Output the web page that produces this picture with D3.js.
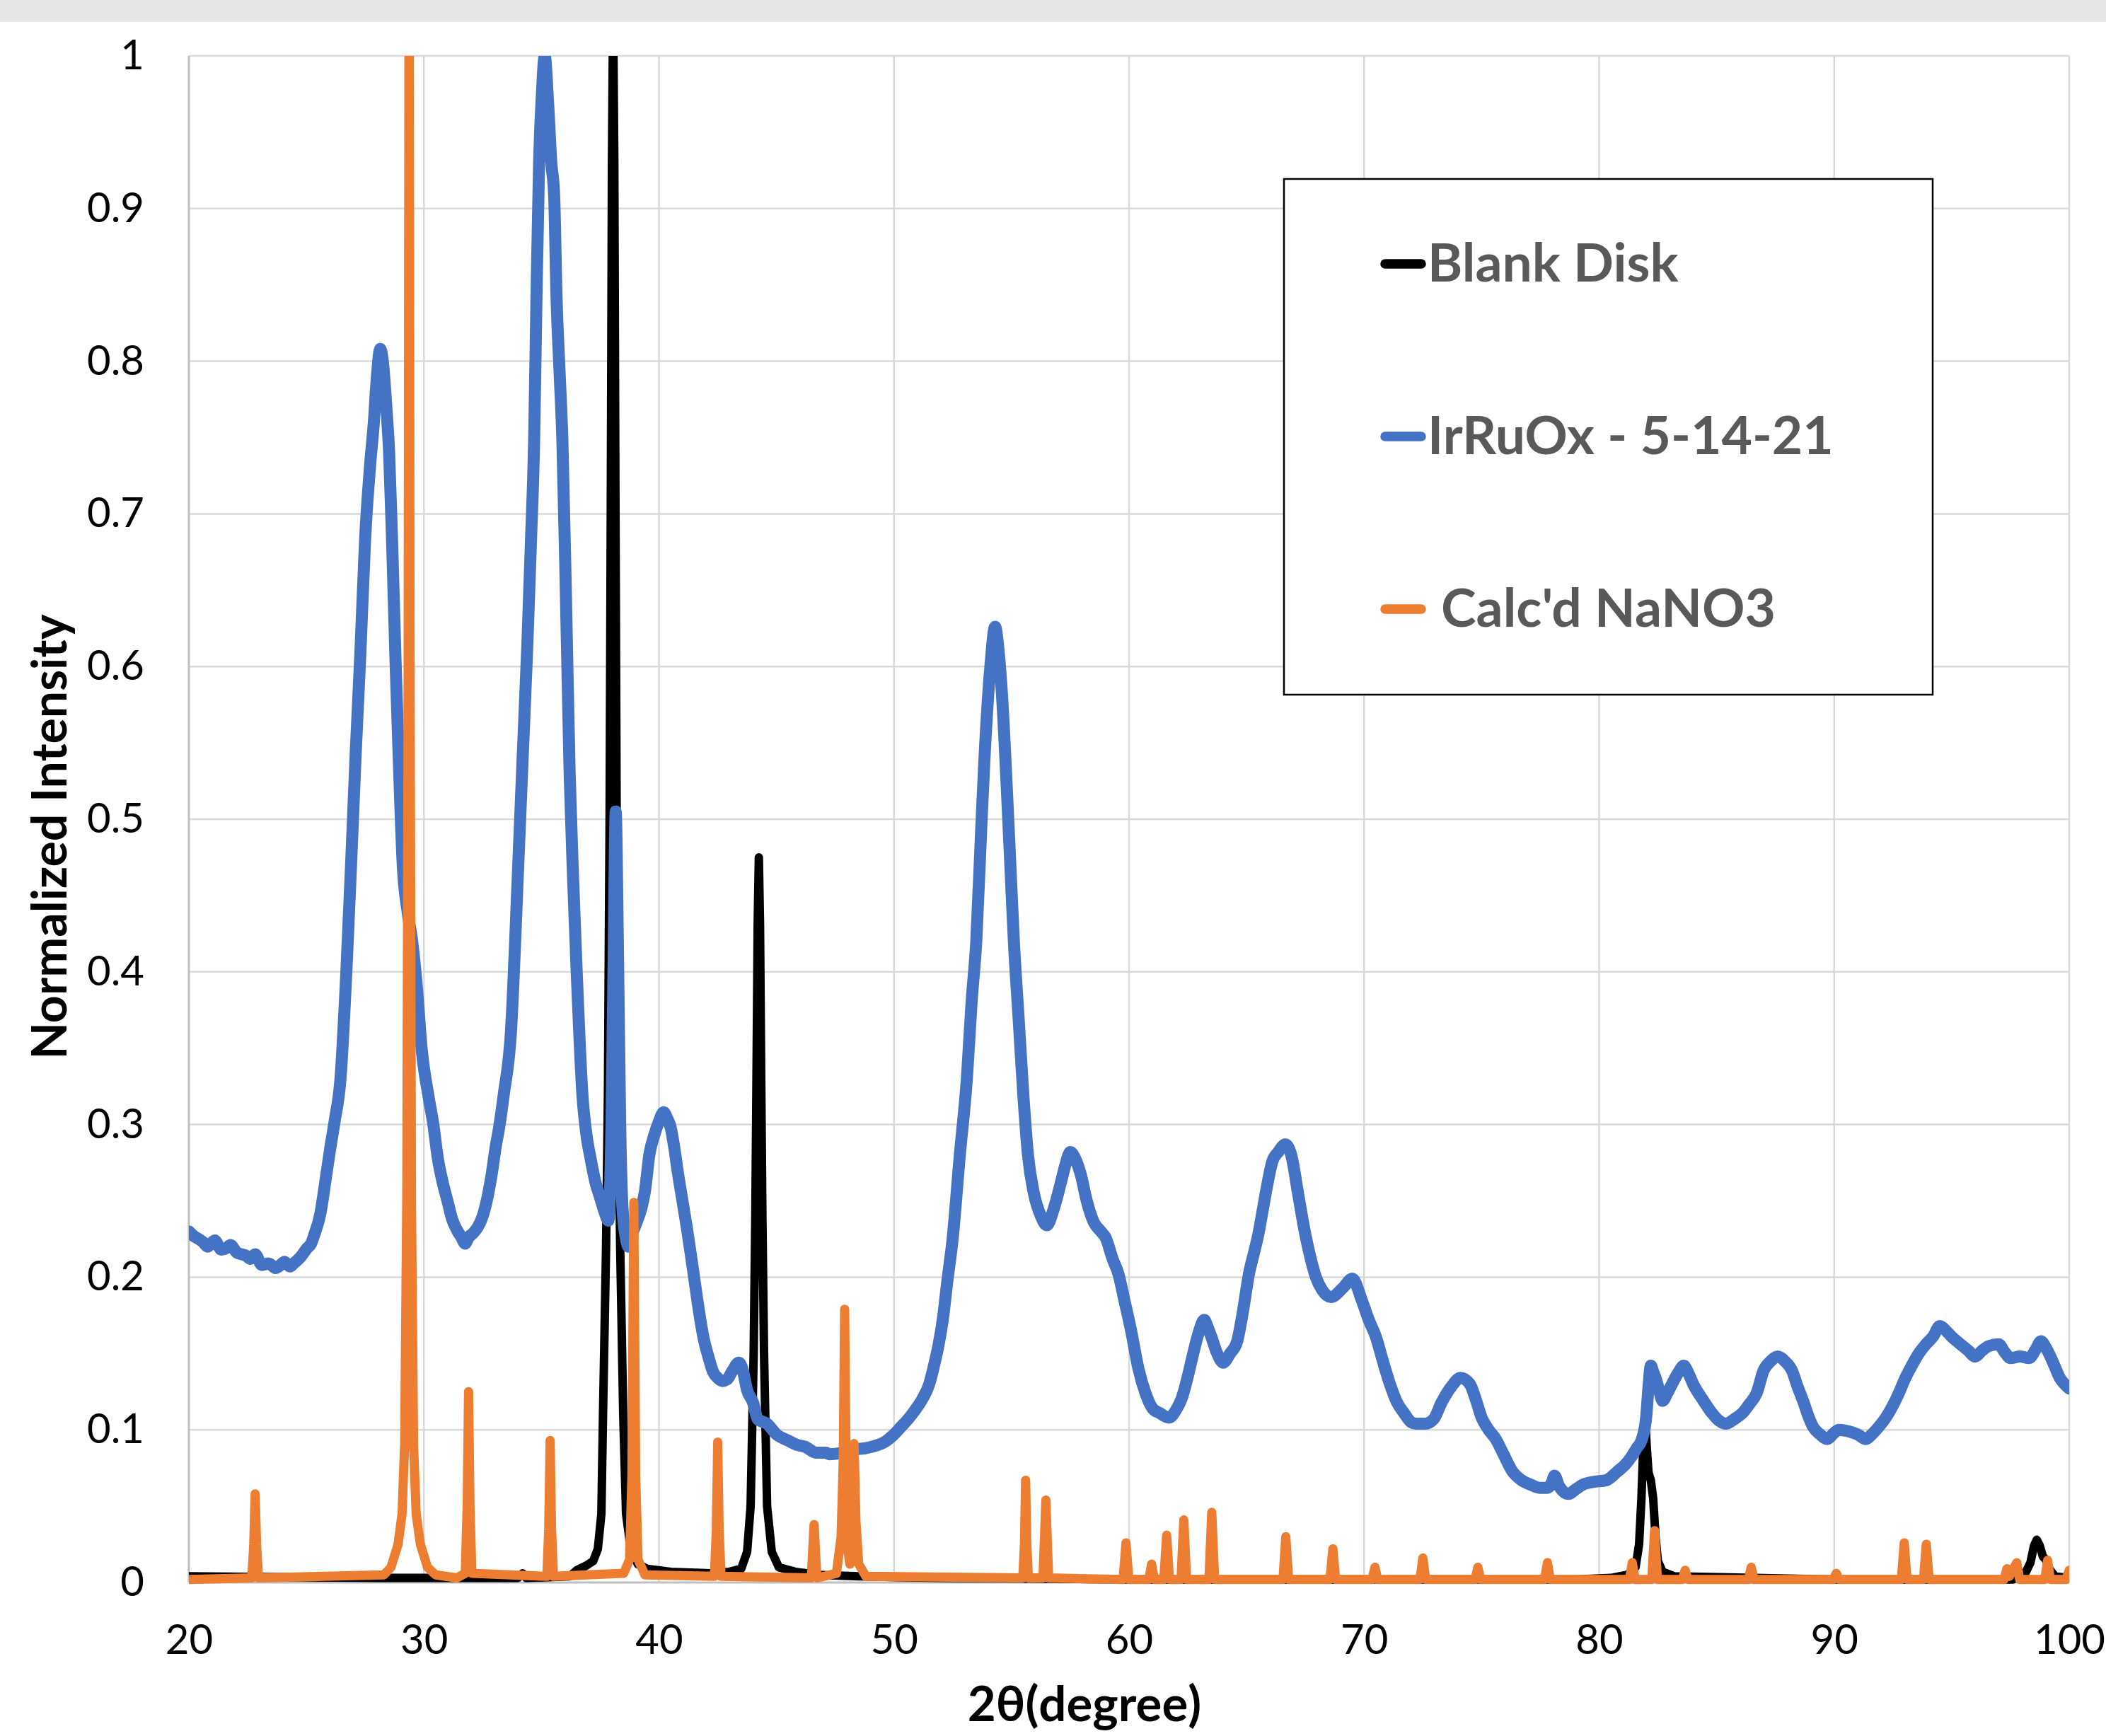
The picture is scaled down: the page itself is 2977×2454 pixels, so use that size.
<!DOCTYPE html>
<html>
<head>
<meta charset="utf-8">
<script src="https://cdn.jsdelivr.net/npm/d3@7"></script>
<style>
  html, body { margin: 0; padding: 0; background: #fff; }
  svg { display: block; }
</style>
</head>
<body>
<div id="chart"></div>
<script>
// values: [2theta (deg), normalized intensity]
const blankDisk = [
  [20,0.004],[24,0.0035],[28,0.003],[34,0.003],[34.2,0.006],[34.35,0.003],[36.2,0.004],[36.5,0.008],[36.9,0.011],
  [37.2,0.014],[37.4,0.022],[37.55,0.045],[37.62,0.11],[37.75,0.22],[37.83,0.32],[37.9,0.5],[37.95,0.7],[38.0,0.93],
  [38.05,1.03],[38.1,0.93],[38.15,0.7],[38.2,0.5],[38.27,0.32],[38.35,0.22],[38.48,0.11],[38.6,0.045],[38.8,0.022],
  [39.1,0.012],[39.5,0.009],[40.5,0.007],[42.2,0.006],[43.0,0.007],[43.5,0.009],[43.75,0.02],[43.9,0.05],[44.03,0.15],
  [44.1,0.24],[44.15,0.33],[44.2,0.43],[44.25,0.475],[44.3,0.43],[44.35,0.33],[44.4,0.24],[44.47,0.15],[44.6,0.05],
  [44.8,0.02],[45.1,0.01],[45.8,0.007],[46.8,0.005],[48.5,0.004],[52,0.003],[60,0.002],[70,0.002],[79,0.002],
  [80.5,0.003],[81.2,0.005],[81.55,0.01],[81.7,0.025],[81.8,0.055],[81.88,0.09],[81.95,0.111],[82.02,0.09],[82.1,0.072],
  [82.2,0.067],[82.3,0.055],[82.4,0.03],[82.5,0.014],[82.7,0.007],[83.2,0.004],[90,0.002],[97.6,0.002],[98.1,0.005],
  [98.35,0.013],[98.5,0.024],[98.62,0.028],[98.75,0.024],[98.88,0.017],[99.0,0.015],[99.15,0.009],[99.4,0.004],[100,0.003]
];

const irRuOx = [
  [20.0,0.230],[20.2,0.227],[20.42,0.225],[20.6,0.223],[20.8,0.220],[21.1,0.224],[21.38,0.218],[21.6,0.219],[21.77,0.221],
  [22.05,0.216],[22.25,0.215],[22.44,0.214],[22.62,0.212],[22.82,0.215],[23.1,0.208],[23.4,0.209],[23.69,0.206],[23.9,0.208],
  [24.07,0.210],[24.3,0.207],[24.46,0.209],[24.74,0.213],[25.03,0.219],[25.2,0.222],[25.32,0.227],[25.6,0.242],[25.8,0.262],
  [26.0,0.283],[26.2,0.302],[26.45,0.33],[26.7,0.40],[26.9,0.47],[27.1,0.544],[27.3,0.61],[27.5,0.684],[27.7,0.73],
  [27.87,0.76],[28.0,0.79],[28.14,0.808],[28.25,0.80],[28.4,0.77],[28.52,0.74],[28.65,0.68],[28.8,0.60],[28.95,0.53],
  [29.1,0.47],[29.3,0.44],[29.5,0.42],[29.7,0.39],[29.9,0.35],[30.2,0.318],[30.4,0.30],[30.6,0.277],[30.8,0.262],
  [31.0,0.25],[31.2,0.238],[31.4,0.231],[31.6,0.226],[31.75,0.222],[31.9,0.226],[32.1,0.229],[32.3,0.233],[32.5,0.24],
  [32.7,0.252],[32.9,0.269],[33.05,0.285],[33.2,0.298],[33.4,0.32],[33.7,0.36],[34.0,0.465],[34.2,0.54],[34.4,0.614],
  [34.55,0.68],[34.69,0.749],[34.79,0.843],[34.9,0.93],[35.02,0.975],[35.14,1.0],[35.28,0.97],[35.42,0.93],[35.54,0.909],
  [35.64,0.843],[35.78,0.79],[35.89,0.749],[36.05,0.64],[36.2,0.53],[36.35,0.46],[36.5,0.40],[36.75,0.318],[36.9,0.295],
  [37.1,0.277],[37.3,0.262],[37.5,0.252],[37.7,0.242],[37.85,0.237],[37.98,0.30],[38.08,0.42],[38.16,0.505],[38.25,0.42],
  [38.35,0.30],[38.45,0.245],[38.6,0.225],[38.7,0.22],[38.85,0.228],[39.05,0.236],[39.25,0.245],[39.4,0.256],[39.6,0.281],
  [39.8,0.293],[40.0,0.302],[40.2,0.308],[40.35,0.304],[40.5,0.298],[40.65,0.285],[40.8,0.269],[41.0,0.25],[41.2,0.231],
  [41.4,0.21],[41.55,0.194],[41.7,0.178],[41.9,0.16],[42.1,0.148],[42.3,0.138],[42.5,0.134],[42.7,0.132],[42.9,0.133],
  [43.1,0.138],[43.4,0.144],[43.55,0.14],[43.75,0.126],[44.0,0.118],[44.2,0.107],[44.6,0.104],[45.0,0.097],[45.5,0.093],
  [45.9,0.090],[46.2,0.089],[46.7,0.085],[47.1,0.085],[47.25,0.084],[47.8,0.085],[48.1,0.087],[48.8,0.088],[49.3,0.090],
  [49.6,0.092],[50.0,0.097],[50.3,0.102],[50.6,0.107],[50.9,0.113],[51.2,0.12],[51.5,0.13],[51.7,0.142],[51.9,0.156],
  [52.1,0.175],[52.25,0.195],[52.5,0.226],[52.8,0.28],[53.1,0.33],[53.3,0.38],[53.5,0.42],[53.7,0.49],[53.85,0.54],
  [54.1,0.60],[54.3,0.626],[54.45,0.61],[54.6,0.58],[54.8,0.52],[54.95,0.47],[55.1,0.42],[55.3,0.37],[55.5,0.32],
  [55.7,0.28],[55.95,0.255],[56.25,0.24],[56.5,0.234],[56.8,0.245],[57.1,0.262],[57.3,0.274],[57.5,0.282],[57.7,0.278],
  [57.95,0.267],[58.2,0.25],[58.5,0.236],[58.8,0.23],[59.0,0.226],[59.3,0.212],[59.55,0.202],[59.8,0.185],[60.1,0.164],
  [60.4,0.14],[60.7,0.124],[61.0,0.114],[61.3,0.111],[61.7,0.108],[62.0,0.113],[62.25,0.121],[62.5,0.135],[62.7,0.148],
  [62.95,0.163],[63.2,0.172],[63.35,0.167],[63.5,0.161],[63.75,0.15],[64.0,0.144],[64.3,0.15],[64.6,0.158],[64.85,0.178],
  [65.1,0.202],[65.3,0.215],[65.5,0.228],[65.7,0.245],[65.9,0.262],[66.1,0.276],[66.35,0.282],[66.65,0.287],[66.9,0.28],
  [67.2,0.254],[67.45,0.232],[67.7,0.214],[67.95,0.2],[68.2,0.192],[68.6,0.187],[69.1,0.193],[69.5,0.199],[69.9,0.185],
  [70.2,0.172],[70.5,0.161],[70.8,0.145],[71.1,0.13],[71.4,0.118],[71.7,0.111],[72.0,0.105],[72.2,0.104],[72.6,0.104],
  [72.96,0.107],[73.3,0.118],[73.7,0.128],[74.1,0.134],[74.5,0.13],[74.75,0.12],[75.0,0.108],[75.3,0.1],[75.6,0.094],
  [75.9,0.085],[76.3,0.073],[76.7,0.067],[77.1,0.064],[77.5,0.062],[77.8,0.062],[78.0,0.066],[78.1,0.070],[78.3,0.063],
  [78.7,0.058],[79.0,0.061],[79.3,0.064],[79.8,0.066],[80.3,0.067],[80.8,0.073],[81.1,0.077],[81.4,0.083],[81.6,0.088],
  [81.8,0.093],[82.0,0.108],[82.1,0.128],[82.2,0.142],[82.3,0.138],[82.4,0.134],[82.55,0.126],[82.7,0.119],[82.9,0.124],
  [83.1,0.130],[83.35,0.137],[83.6,0.142],[83.8,0.137],[84.0,0.13],[84.4,0.12],[84.8,0.111],[85.1,0.106],[85.4,0.104],
  [85.75,0.107],[86.1,0.111],[86.4,0.117],[86.7,0.124],[87.0,0.139],[87.3,0.145],[87.6,0.148],[87.9,0.145],[88.2,0.139],
  [88.45,0.128],[88.7,0.118],[88.9,0.109],[89.1,0.102],[89.4,0.097],[89.7,0.094],[90.0,0.098],[90.2,0.1],[90.6,0.099],
  [91.0,0.097],[91.35,0.094],[91.6,0.097],[91.9,0.102],[92.2,0.108],[92.5,0.116],[92.75,0.124],[93.0,0.133],[93.3,0.142],
  [93.6,0.15],[93.9,0.156],[94.2,0.161],[94.5,0.168],[94.75,0.165],[95.0,0.161],[95.3,0.157],[95.7,0.152],[96.0,0.148],
  [96.3,0.152],[96.6,0.155],[97.0,0.156],[97.25,0.151],[97.5,0.147],[97.9,0.148],[98.3,0.147],[98.55,0.152],[98.8,0.158],
  [99.0,0.154],[99.2,0.148],[99.4,0.141],[99.6,0.134],[99.8,0.13],[100.0,0.127]
];

const calcNaNO3 = [
  [20,0.002],[22.68,0.003],[22.76,0.025],[22.82,0.058],[22.88,0.025],[22.96,0.003],
  [28.3,0.005],[28.6,0.01],[28.9,0.025],[29.07,0.045],[29.18,0.09],[29.27,0.25],[29.33,0.6],[29.37,1.1],[29.41,0.6],
  [29.47,0.25],[29.56,0.09],[29.67,0.045],[29.85,0.025],[30.15,0.01],[30.5,0.005],[31.4,0.003],
  [31.76,0.006],[31.84,0.05],[31.9,0.125],[31.96,0.05],[32.04,0.006],
  [35.23,0.004],[35.31,0.035],[35.37,0.093],[35.43,0.035],[35.51,0.004],
  [38.5,0.006],[38.75,0.015],[38.85,0.07],[38.93,0.249],[39.01,0.07],[39.11,0.015],[39.4,0.005],
  [42.36,0.004],[42.44,0.035],[42.5,0.092],[42.56,0.035],[42.64,0.004],
  [46.48,0.003],[46.6,0.038],[46.72,0.003],
  [47.55,0.006],[47.75,0.03],[47.84,0.08],[47.9,0.179],[47.96,0.08],[48.05,0.02],[48.12,0.012],[48.22,0.04],[48.3,0.091],
  [48.38,0.04],[48.5,0.012],[48.8,0.004],
  [55.48,0.003],[55.55,0.025],[55.6,0.067],[55.65,0.025],[55.72,0.003],
  [56.34,0.003],[56.46,0.054],[56.58,0.003],
  [59.75,0.002],[59.87,0.026],[59.99,0.002],[60.84,0.002],[60.96,0.012],[61.08,0.002],
  [61.48,0.002],[61.6,0.031],[61.72,0.002],[62.21,0.002],[62.33,0.041],[62.45,0.002],
  [63.4,0.002],[63.52,0.046],[63.64,0.002],[66.55,0.002],[66.67,0.030],[66.79,0.002],
  [68.55,0.002],[68.67,0.022],[68.79,0.002],[70.34,0.002],[70.46,0.010],[70.58,0.002],
  [72.38,0.002],[72.5,0.016],[72.62,0.002],[74.72,0.002],[74.84,0.010],[74.96,0.002],
  [77.68,0.002],[77.8,0.013],[77.92,0.002],[81.29,0.002],[81.41,0.013],[81.53,0.002],
  [82.24,0.002],[82.36,0.034],[82.48,0.002],[83.54,0.002],[83.66,0.008],[83.78,0.002],
  [86.35,0.002],[86.47,0.010],[86.59,0.002],[89.97,0.002],[90.09,0.006],[90.21,0.002],
  [92.86,0.002],[92.98,0.026],[93.1,0.002],[93.8,0.002],[93.92,0.025],[94.04,0.002],
  [97.23,0.002],[97.35,0.009],[97.45,0.004],[97.77,0.013],[97.89,0.002],
  [98.96,0.002],[99.08,0.0145],[99.2,0.002],[99.86,0.002],[100,0.008]
];

const xTicks = [20, 30, 40, 50, 60, 70, 80, 90, 100];
const yTicks = [0, 0.1, 0.2, 0.3, 0.4, 0.5, 0.6, 0.7, 0.8, 0.9, 1];
const seriesNames = ['Blank Disk', 'IrRuOx - 5-14-21', "Calc'd NaNO3"];
const seriesColors = ['#000000', '#4472c4', '#ed7d31'];
const seriesWidths = [12, 17, 13];

(function(){
  const W = 2977, H = 2454;
  const plot = {left: 267, right: 2925, top: 79, bottom: 2237};
  const font = 'Lato, "Open Sans", sans-serif';

  const x = d3.scaleLinear().domain([20, 100]).range([plot.left, plot.right]);
  const y = d3.scaleLinear().domain([0, 1]).range([plot.bottom, plot.top]);

  const svg = d3.select('#chart').append('svg')
    .attr('width', W).attr('height', H)
    .style('font-family', font);

  svg.append('rect').attr('width', W).attr('height', H).attr('fill', '#fff');
  // grey strip left from the cut-off title
  svg.append('rect').attr('width', W).attr('height', 31).attr('fill', '#e6e6e6');

  // gridlines
  svg.append('g').selectAll('line')
    .data(yTicks.slice(1))
    .enter().append('line')
    .attr('x1', plot.left).attr('x2', plot.right)
    .attr('y1', d => y(d)).attr('y2', d => y(d))
    .style('stroke', '#d9d9d9').style('stroke-width', 2.5);

  svg.append('g').selectAll('line')
    .data(xTicks.slice(1))
    .enter().append('line')
    .attr('x1', d => x(d)).attr('x2', d => x(d))
    .attr('y1', plot.top).attr('y2', plot.bottom)
    .style('stroke', '#d9d9d9').style('stroke-width', 2.5);

  // axis lines
  svg.append('line')
    .attr('x1', plot.left).attr('x2', plot.left).attr('y1', plot.top).attr('y2', plot.bottom)
    .style('stroke', '#bfbfbf').style('stroke-width', 3);
  svg.append('line')
    .attr('x1', plot.left).attr('x2', plot.right).attr('y1', plot.bottom).attr('y2', plot.bottom)
    .style('stroke', '#bfbfbf').style('stroke-width', 3);

  // tick labels
  const yAxis = svg.append('g')
    .attr('transform', `translate(${plot.left},0)`)
    .call(d3.axisLeft(y).tickValues(yTicks).tickFormat(d => String(d)).tickSize(0).tickPadding(63));
  yAxis.select('.domain').remove();
  yAxis.attr('font-family', font).attr('font-size', 58).style('color', '#000');

  const xAxis = svg.append('g')
    .attr('transform', `translate(0,${plot.bottom})`)
    .call(d3.axisBottom(x).tickValues(xTicks).tickFormat(d => String(d)).tickSize(0).tickPadding(60));
  xAxis.select('.domain').remove();
  xAxis.attr('font-family', font).attr('font-size', 58).style('color', '#000');

  // axis titles
  svg.append('text')
    .attr('x', 1533).attr('y', 2433)
    .attr('text-anchor', 'middle')
    .attr('font-size', 69).attr('font-weight', 'bold')
    .attr('fill', '#000')
    .text('2θ(degree)');

  svg.append('text')
    .attr('transform', 'translate(94,1183) rotate(-90)')
    .attr('text-anchor', 'middle')
    .attr('font-size', 68).attr('font-weight', 'bold')
    .attr('fill', '#000')
    .text('Normalized Intensity');

  // series
  svg.append('clipPath').attr('id', 'plotClip')
    .append('rect')
    .attr('x', plot.left).attr('y', plot.top)
    .attr('width', plot.right - plot.left).attr('height', plot.bottom - plot.top + 20);

  const sharp = d3.line().x(d => x(d[0])).y(d => y(d[1]));
  const smooth = d3.line().x(d => x(d[0])).y(d => y(d[1])).curve(d3.curveMonotoneX);
  const series = [blankDisk, irRuOx, calcNaNO3];

  svg.append('g').attr('clip-path', 'url(#plotClip)')
    .selectAll('path')
    .data(series)
    .enter().append('path')
    .attr('d', (d, i) => i === 1 ? smooth(d) : sharp(d))
    .attr('fill', 'none')
    .attr('stroke', (d, i) => seriesColors[i])
    .attr('stroke-width', (d, i) => seriesWidths[i])
    .attr('stroke-linejoin', 'round')
    .attr('stroke-linecap', 'round');

  // legend
  const legend = svg.append('g');
  legend.append('rect')
    .attr('x', 1815).attr('y', 253).attr('width', 917).attr('height', 729)
    .attr('fill', '#fff').attr('stroke', '#000').attr('stroke-width', 2.5);

  const rowY = [373, 617, 861];
  const textX = [2018, 2018, 2037];
  const item = legend.selectAll('.item')
    .data(seriesNames)
    .enter().append('g').attr('class', 'item');

  item.append('line')
    .attr('x1', 1958).attr('x2', 2009)
    .attr('y1', (d, i) => rowY[i]).attr('y2', (d, i) => rowY[i])
    .attr('stroke', (d, i) => seriesColors[i])
    .attr('stroke-width', 13.5).attr('stroke-linecap', 'round');

  item.append('text')
    .attr('x', (d, i) => textX[i])
    .attr('y', (d, i) => rowY[i] + 25)
    .attr('font-size', 75).attr('font-weight', 'bold')
    .attr('fill', '#595959')
    .text(d => d);
})();
</script>
</body>
</html>
